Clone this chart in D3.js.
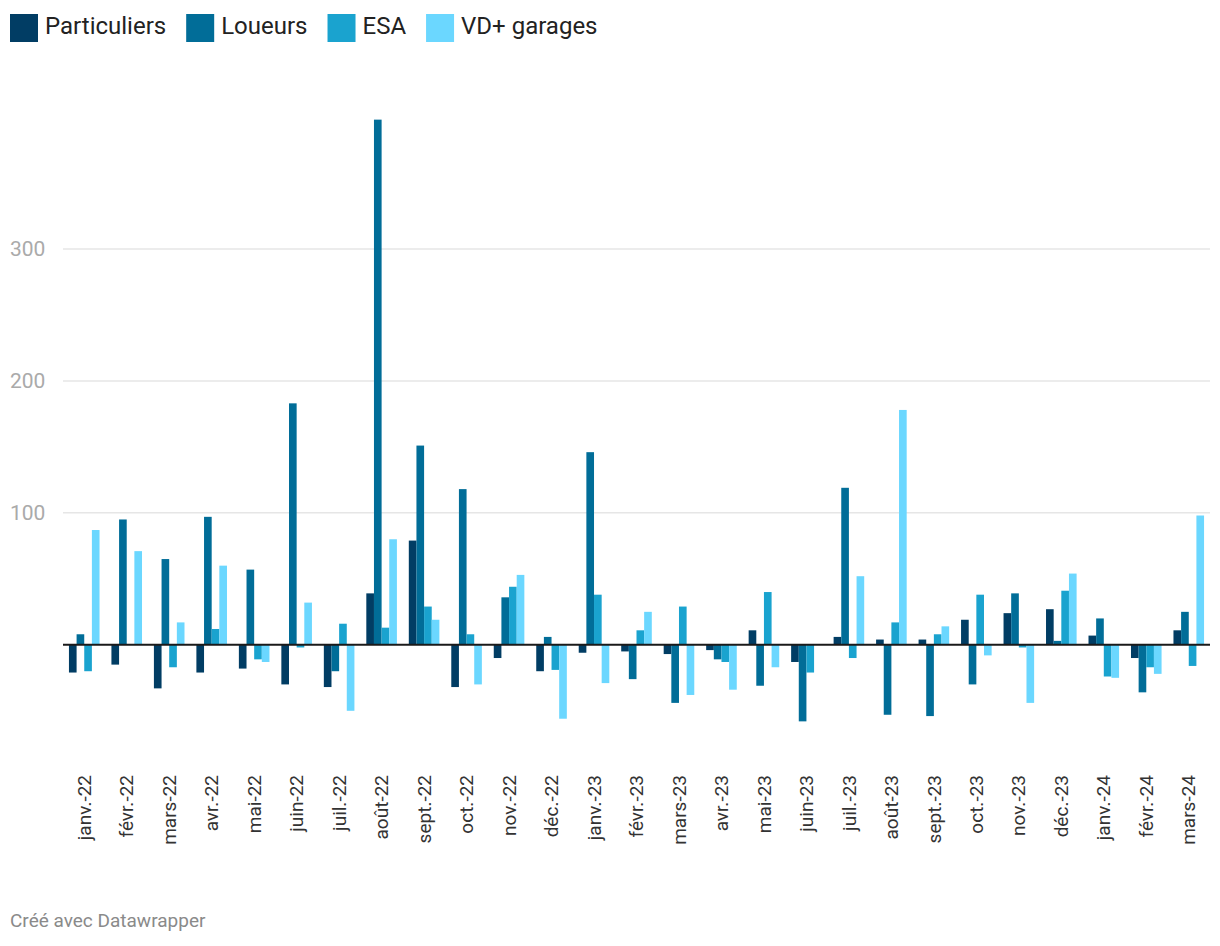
<!DOCTYPE html>
<html>
<head>
<meta charset="utf-8">
<script src="https://cdn.jsdelivr.net/npm/d3@7"></script>
<style>
  body { margin: 0; background: #fff; font-family: Roboto, "Noto Sans", sans-serif; }
  svg text { font-family: Roboto, "Noto Sans", sans-serif; }
</style>
</head>
<body>
<svg id="chart"></svg>
<script>
var months = ["janv.-22", "févr.-22", "mars-22", "avr.-22", "mai-22", "juin-22", "juil.-22", "août-22",
    "sept.-22", "oct.-22", "nov.-22", "déc.-22", "janv.-23", "févr.-23", "mars-23", "avr.-23", "mai-23",
    "juin-23", "juil.-23", "août-23", "sept.-23", "oct.-23", "nov.-23", "déc.-23", "janv.-24", "févr.-24", "mars-24"];

var seriesNames = ["Particuliers", "Loueurs", "ESA", "VD+ garages"];
var seriesColors = ["#013d64", "#016d98", "#1aa3cf", "#6bd7ff"];

var particuliers = [-21, -15, -33, -21, -18, -30, -32, 39, 79, -32, -10, -20, -6, -5, -7, -4, 11, -13, 6, 4, 4, 19, 24, 27, 7, -10, 11];
var loueurs = [8, 95, 65, 97, 57, 183, -20, 398, 151, 118, 36, 6, 146, -26, -44, -11, -31, -58, 119, -53, -54, -30, 39, 3, 20, -36, 25];
var esa = [-20, 0, -17, 12, -11, -2, 16, 13, 29, 8, 44, -19, 38, 11, 29, -13, 40, -21, -10, 17, 8, 38, -2, 41, -24, -17, -16];
var vdGarages = [87, 71, 17, 60, -13, 32, -50, 80, 19, -30, 53, -56, -29, 25, -38, -34, -17, 0, 52, 178, 14, -8, -44, 54, -25, -22, 98];

var yTicks = [100, 200, 300];

var values = [particuliers, loueurs, esa, vdGarages];

var svgWidth = 1220, svgHeight = 946;
var svg = d3.select("#chart")
    .attr("width", svgWidth)
    .attr("height", svgHeight);

var x0 = d3.scaleBand()
    .domain(months)
    .range([63, 1210])
    .paddingInner(0.28)
    .paddingOuter(0.14);

var x1 = d3.scaleBand()
    .domain(d3.range(seriesNames.length))
    .range([0, x0.bandwidth()]);

var y = d3.scaleLinear()
    .domain([-60, 400])
    .range([724, 117]);

// grid lines
var grid = svg.append("g");
grid.selectAll("line")
    .data(yTicks)
    .enter()
    .append("line")
    .attr("x1", 63)
    .attr("x2", 1210)
    .attr("y1", function(d) { return y(d); })
    .attr("y2", function(d) { return y(d); })
    .attr("stroke", "#e6e6e6")
    .attr("stroke-width", 1.5);

grid.selectAll("text")
    .data(yTicks)
    .enter()
    .append("text")
    .attr("x", 10)
    .attr("y", function(d) { return y(d); })
    .attr("dy", "0.35em")
    .attr("font-size", 21)
    .attr("fill", "#aaaaaa")
    .text(function(d) { return d; });

// bars
var groups = svg.selectAll("g.month")
    .data(months)
    .enter()
    .append("g")
    .attr("class", "month")
    .attr("transform", function(d) { return "translate(" + x0(d) + ",0)"; });

groups.selectAll("rect")
    .data(function(d, i) {
        return values.map(function(s, k) { return { k: k, v: s[i] }; });
    })
    .enter()
    .append("rect")
    .attr("x", function(d) { return x1(d.k); })
    .attr("width", x1.bandwidth())
    .attr("y", function(d) { return y(Math.max(0, d.v)); })
    .attr("height", function(d) { return Math.abs(y(d.v) - y(0)); })
    .attr("fill", function(d) { return seriesColors[d.k]; });

// zero line
svg.append("line")
    .attr("x1", 63)
    .attr("x2", 1210)
    .attr("y1", y(0))
    .attr("y2", y(0))
    .attr("stroke", "#1a1a1a")
    .attr("stroke-width", 2);

// x labels
svg.append("g")
    .selectAll("text")
    .data(months)
    .enter()
    .append("text")
    .attr("transform", function(d) {
        return "translate(" + (x0(d) + x0.bandwidth() / 2) + ",775) rotate(-90)";
    })
    .attr("text-anchor", "end")
    .attr("dy", "0.35em")
    .attr("font-size", 19)
    .attr("fill", "#333333")
    .text(function(d) { return d; });

// legend
var legend = svg.append("g").attr("transform", "translate(10,14)");
var lx = 0;
seriesNames.forEach(function(name, i) {
    var item = legend.append("g").attr("transform", "translate(" + lx + ",0)");
    item.append("rect")
        .attr("width", 28)
        .attr("height", 28)
        .attr("fill", seriesColors[i]);
    var t = item.append("text")
        .attr("x", 35)
        .attr("y", 20)
        .attr("font-size", 24)
        .attr("fill", "#222222")
        .text(name);
    lx += 35 + t.node().getComputedTextLength() + 20;
});

// footer
svg.append("text")
    .attr("x", 10)
    .attr("y", 927)
    .attr("font-size", 19)
    .attr("fill", "#8a8a8a")
    .text("Créé avec Datawrapper");
</script>
</body>
</html>
